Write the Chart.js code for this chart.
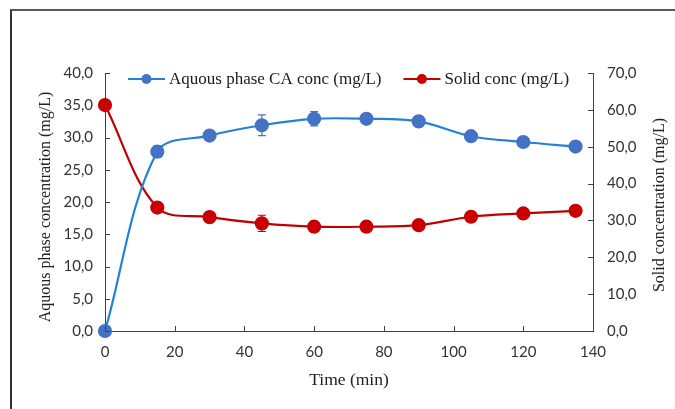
<!DOCTYPE html>
<html lang="en">
<head>
<meta charset="UTF-8">
<title>Aqueous phase and solid concentration vs time</title>
<script src="https://cdn.jsdelivr.net/npm/chart.js"></script>
<style>
  html, body { margin: 0; padding: 0; background: #fff; }
  #wrap { position: relative; width: 675px; height: 409px; }
  #frame { position: absolute; left: 10px; top: 9px; right: 0; bottom: 0;
           border-top: 2px solid #5a5a5a; border-left: 2px solid #333; pointer-events: none; }
</style>
</head>
<body>
<div id="wrap">
  <canvas id="chart" width="675" height="409"></canvas>
  <div id="frame"></div>
</div>
<script>
// values
const timeMin     = [0, 15, 30, 45, 60, 75, 90, 105, 120, 135];
const aqueousConc = [0, 27.8, 30.3, 31.9, 32.9, 32.9, 32.5, 30.2, 29.3, 28.6];
const aqueousErr  = [0, 0.9, 0.3, 1.6, 1.1, 0.3, 0.3, 0.2, 0.2, 0.2];
const solidConc   = [61.3, 33.5, 30.9, 29.2, 28.3, 28.3, 28.7, 31.0, 31.9, 32.6];
const solidErr    = [0, 0.3, 0.4, 2.2, 0.8, 0.3, 0.3, 0.2, 0.2, 0.2];

const BLUE_LINE = '#2381d8', BLUE_MARK = '#4472c4';
const RED_LINE = '#c00000', RED_MARK = '#c80000';
const AXIS = '#404040';
const SERIF = '"Liberation Serif", "Times New Roman", serif';
const SANS = 'Lato, "Open Sans", sans-serif';

function pts(ys) { return timeMin.map((t, i) => ({x: t, y: ys[i]})); }
function comma(v) { return v.toFixed(1).replace('.', ','); }

// inside tick marks, like Excel
const insideTicks = {
  id: 'insideTicks',
  afterDraw(chart) {
    const {ctx, scales, chartArea} = chart;
    ctx.save();
    ctx.strokeStyle = AXIS;
    ctx.lineWidth = 1;
    ctx.beginPath();
    scales.x.ticks.forEach((t, i) => {
      const px = Math.round(scales.x.getPixelForTick(i)) + 0.5;
      ctx.moveTo(px, chartArea.bottom);
      ctx.lineTo(px, chartArea.bottom - 5);
    });
    scales.y.ticks.forEach((t, i) => {
      const py = Math.round(scales.y.getPixelForTick(i)) + 0.5;
      ctx.moveTo(chartArea.left, py);
      ctx.lineTo(chartArea.left + 5, py);
    });
    scales.y2.ticks.forEach((t, i) => {
      const py = Math.round(scales.y2.getPixelForTick(i)) + 0.5;
      ctx.moveTo(chartArea.right, py);
      ctx.lineTo(chartArea.right - 5, py);
    });
    ctx.stroke();
    ctx.restore();
  }
};

// both vertical axis titles read bottom-to-top
const sideTitles = {
  id: 'sideTitles',
  afterDraw(chart) {
    const {ctx} = chart;
    const draw = (text, x, y) => {
      ctx.save();
      ctx.translate(x, y);
      ctx.rotate(-Math.PI / 2);
      ctx.font = '16px ' + SERIF;
      ctx.fillStyle = '#222';
      ctx.textAlign = 'center';
      ctx.textBaseline = 'middle';
      ctx.fillText(text, 0, 0);
      ctx.restore();
    };
    draw('Aquous phase concentration (mg/L)', 46, 207);
    draw('Solid concentration (mg/L)', 660, 205);
  }
};

// vertical error bars with caps
const errorBars = {
  id: 'errorBars',
  beforeDatasetsDraw(chart) {
    const {ctx} = chart;
    ctx.save();
    chart.data.datasets.forEach((ds, di) => {
      if (!ds.errors) return;
      const meta = chart.getDatasetMeta(di);
      const ys = chart.scales[ds.yAxisID];
      ctx.strokeStyle = ds.pointBackgroundColor;
      ctx.lineWidth = 1.2;
      meta.data.forEach((el, i) => {
        const e = ds.errors[i];
        if (!e) return;
        const v = ds.data[i].y;
        const top = ys.getPixelForValue(v + e);
        const bot = ys.getPixelForValue(v - e);
        ctx.beginPath();
        ctx.moveTo(el.x, top); ctx.lineTo(el.x, bot);
        ctx.moveTo(el.x - 4, top); ctx.lineTo(el.x + 4, top);
        ctx.moveTo(el.x - 4, bot); ctx.lineTo(el.x + 4, bot);
        ctx.stroke();
      });
    });
    ctx.restore();
  }
};

// legend drawn inside the plot, line + marker samples
const lineLegend = {
  id: 'lineLegend',
  afterDraw(chart) {
    const {ctx} = chart;
    ctx.save();
    ctx.font = '17px ' + SERIF;
    ctx.textBaseline = 'middle';
    let x = 128;
    const y = 79;
    chart.data.datasets.forEach(ds => {
      ctx.strokeStyle = ds.borderColor;
      ctx.lineWidth = 2;
      ctx.beginPath();
      ctx.moveTo(x, y); ctx.lineTo(x + 37, y);
      ctx.stroke();
      ctx.fillStyle = ds.pointBackgroundColor;
      ctx.beginPath();
      ctx.arc(x + 18.5, y, 5, 0, Math.PI * 2);
      ctx.fill();
      ctx.fillStyle = '#1a1a1a';
      ctx.fillText(ds.label, x + 41, y + 1);
      x += 41 + ctx.measureText(ds.label).width + 22;
    });
    ctx.restore();
  }
};

new Chart(document.getElementById('chart'), {
  type: 'line',
  data: {
    datasets: [
      {
        label: 'Aquous phase CA conc (mg/L)',
        data: pts(aqueousConc),
        errors: aqueousErr,
        yAxisID: 'y',
        borderColor: BLUE_LINE,
        borderWidth: 2.2,
        pointBackgroundColor: BLUE_MARK,
        pointBorderColor: BLUE_MARK,
        pointRadius: 6,
        tension: 0.35,
        clip: false
      },
      {
        label: 'Solid conc (mg/L)',
        data: pts(solidConc),
        errors: solidErr,
        yAxisID: 'y2',
        borderColor: RED_LINE,
        borderWidth: 2.2,
        pointBackgroundColor: RED_MARK,
        pointBorderColor: RED_MARK,
        pointRadius: 6,
        tension: 0.35,
        clip: false
      }
    ]
  },
  options: {
    responsive: false,
    animation: false,
    layout: {padding: {top: 73, left: 0, right: 0, bottom: 0}},
    plugins: {legend: {display: false}, tooltip: {enabled: false}},
    scales: {
      x: {
        type: 'linear', min: 0, max: 140,
        ticks: {stepSize: 20, padding: 12, color: '#333', font: {family: SANS, size: 15}},
        grid: {display: false, drawTicks: false},
        border: {color: AXIS, width: 1},
        title: {display: true, text: 'Time (min)', color: '#222',
                font: {family: SERIF, size: 17.5}, padding: {top: 0, bottom: 18}},
        afterFit(s) { s.height = 78; }
      },
      y: {
        position: 'left', min: 0, max: 40,
        ticks: {stepSize: 5, padding: 12, color: '#333', font: {family: SANS, size: 15},
                callback: v => comma(v)},
        grid: {display: false, drawTicks: false},
        border: {color: AXIS, width: 1},
        title: {display: false},
        afterFit(s) { s.width = 105; }
      },
      y2: {
        position: 'right', min: 0, max: 70,
        ticks: {stepSize: 10, padding: 14, color: '#333', font: {family: SANS, size: 15},
                callback: v => comma(v)},
        grid: {display: false, drawTicks: false},
        border: {color: AXIS, width: 1},
        title: {display: false},
        afterFit(s) { s.width = 82; }
      }
    }
  },
  plugins: [insideTicks, errorBars, lineLegend, sideTitles]
});
</script>
</body>
</html>
